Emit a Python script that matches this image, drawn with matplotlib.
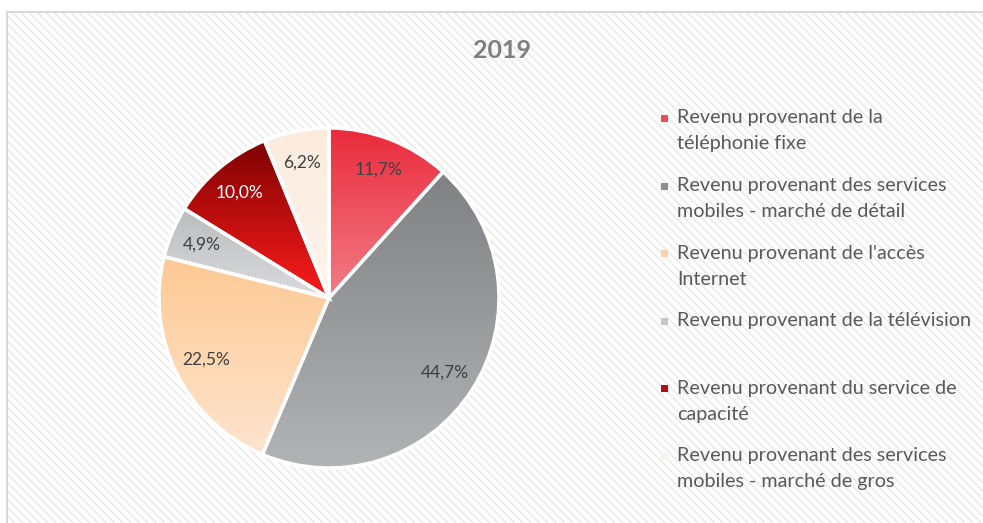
import numpy as np
import matplotlib
matplotlib.use("Agg")
import matplotlib.pyplot as plt
from matplotlib.patches import Rectangle
from matplotlib.colors import LinearSegmentedColormap

# data
title = "2019"
labels = [
    "Revenu provenant de la\ntéléphonie fixe",
    "Revenu provenant des services\nmobiles - marché de détail",
    "Revenu provenant de l'accès\nInternet",
    "Revenu provenant de la télévision",
    "Revenu provenant du service de\ncapacité",
    "Revenu provenant des services\nmobiles - marché de gros",
]
shares = [11.7, 44.7, 22.5, 4.9, 10.0, 6.2]

# gradient colours (top, bottom) for each slice
grad_top = ["#EA2A3B", "#808183", "#FDC993", "#BBBCBE", "#7E0202", "#FBEBDD"]
grad_bot = ["#F27D87", "#B3B4B6", "#FEE4CF", "#DADBDD", "#FF1C1C", "#FDF5EF"]
legend_col = ["#EE4A58", "#8E8F91", "#FDD2A8", "#C6C7C9", "#B80D0D", "#FCF0E6"]
pct_col = ["#404040", "#404040", "#404040", "#404040", "white", "#404040"]

W, H = 983, 523
fig = plt.figure(figsize=(W / 100, H / 100), dpi=100)
fig.patch.set_facecolor("white")

def fx(x):
    return x / W

def fy(y):
    return 1 - y / H

# hatched chart area background
plt.rcParams["hatch.linewidth"] = 1.2
bg = Rectangle((fx(7), 0), 1, fy(12), transform=fig.transFigure,
               facecolor="white", edgecolor="#EBEBEB", hatch="\\\\\\\\", lw=0,
               zorder=-2)
fig.patches.append(bg)
border = Rectangle((fx(7), -0.05), 1.1, fy(12) + 0.05, transform=fig.transFigure,
                   facecolor="none", edgecolor="#D9D9D9", lw=1.5, zorder=-1)
fig.patches.append(border)

# pie
cx, cy, r = 329, 298, 170
lim = 1.1
half = r * lim
ax = fig.add_axes([fx(cx - half), fy(cy + half), (2 * half) / W, (2 * half) / H])
ax.patch.set_alpha(0)
wedges, texts, autotexts = ax.pie(
    shares, startangle=90, counterclock=False, radius=1,
    autopct=lambda p: f"{p:.1f}%".replace(".", ","), pctdistance=0.81,
    wedgeprops=dict(edgecolor="white", linewidth=2.5),
    textprops=dict(fontsize=12.5, family="Lato"))
ax.set_xlim(-lim, lim)
ax.set_ylim(-lim, lim)
ax.set_aspect("equal")
ax.axis("off")

grad = np.linspace(0, 1, 256).reshape(-1, 1)
for i, w in enumerate(wedges):
    verts = w.get_patch_transform().transform(w.get_path().vertices)
    x0, x1 = verts[:, 0].min(), verts[:, 0].max()
    y0, y1 = verts[:, 1].min(), verts[:, 1].max()
    cmap = LinearSegmentedColormap.from_list(f"g{i}", [grad_top[i], grad_bot[i]])
    im = ax.imshow(grad, cmap=cmap, extent=(x0, x1, y0, y1), origin="upper",
                   aspect="auto", zorder=1)
    im.set_clip_path(w)
    w.set_facecolor("none")
    w.set_zorder(2)
    w.set_clip_on(False)
for i, t in enumerate(autotexts):
    t.set_color(pct_col[i])
    t.set_zorder(3)

# title
fig.text(fx(502), fy(50), title, ha="center", va="center", fontsize=18,
         fontweight="bold", color="#7F7F7F", family="Lato")

# legend
for i, lab in enumerate(labels):
    y0 = 118 + i * 67.6
    fig.patches.append(Rectangle((fx(661), fy(y0 + 4)), 7 / W, 7 / H,
                                 transform=fig.transFigure, facecolor=legend_col[i],
                                 edgecolor="none"))
    for j, line in enumerate(lab.split("\n")):
        fig.text(fx(677), fy(y0 + j * 26), line, ha="left", va="center",
                 fontsize=14.2, color="#595959", family="Lato")

fig.savefig("out.png", dpi=100)
